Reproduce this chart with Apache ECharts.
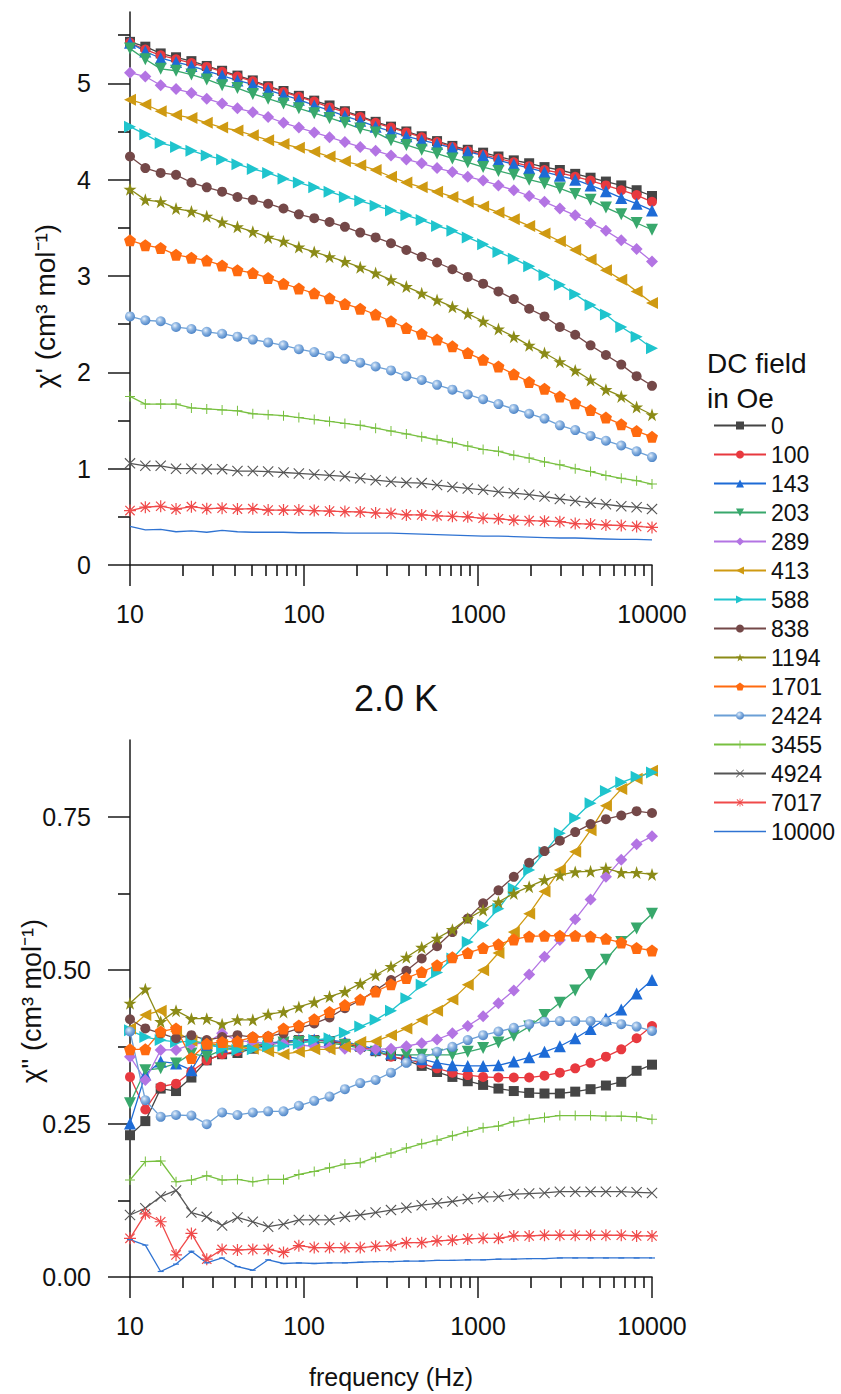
<!DOCTYPE html>
<html><head><meta charset="utf-8">
<script src="https://cdn.jsdelivr.net/npm/echarts@6/dist/echarts.min.js"></script>
<style>html,body{margin:0;padding:0;background:#fff}#c{width:841px;height:1394px}</style>
</head><body><div id="c"></div>
<script>
// ---------------- DATA ----------------
const frequencies = [10,12.25,15.01,18.39,22.54,27.61,33.83,41.45,50.79,62.23,76.25,93.42,114.5,140.2,171.8,210.5,258.0,316.2,387.5,474.7,581.7,712.7,873.2,1070,1311,1606,1968,2411,2954,3620,4435,5434,6659,8158,10000];
const fieldNames = ['0','100','143','203','289','413','588','838','1194','1701','2424','3455','4924','7017','10000'];

// chi' (top panel)
const chi1_0    = [5.43,5.38,5.31,5.27,5.23,5.18,5.13,5.08,5.03,4.97,4.92,4.87,4.82,4.77,4.71,4.66,4.60,4.55,4.50,4.45,4.40,4.35,4.31,4.28,4.24,4.20,4.17,4.13,4.10,4.06,4.02,3.98,3.94,3.89,3.83];
const chi1_100  = [5.42,5.35,5.29,5.25,5.21,5.17,5.12,5.07,5.02,4.96,4.91,4.86,4.81,4.75,4.70,4.65,4.59,4.54,4.49,4.44,4.39,4.34,4.30,4.26,4.22,4.18,4.14,4.10,4.07,4.03,3.99,3.94,3.89,3.84,3.77];
const chi1_143  = [5.42,5.33,5.26,5.22,5.18,5.13,5.08,5.03,4.99,4.93,4.88,4.83,4.77,4.72,4.66,4.61,4.55,4.50,4.45,4.41,4.37,4.33,4.29,4.25,4.20,4.16,4.12,4.08,4.04,4.00,3.94,3.88,3.81,3.75,3.68];
const chi1_203  = [5.36,5.25,5.15,5.13,5.09,5.04,4.98,4.95,4.89,4.84,4.79,4.74,4.69,4.64,4.59,4.53,4.49,4.41,4.36,4.31,4.27,4.22,4.18,4.13,4.09,4.05,4.00,3.96,3.91,3.85,3.79,3.71,3.64,3.55,3.48];
const chi1_289  = [5.11,5.07,4.98,4.94,4.90,4.84,4.79,4.74,4.70,4.65,4.59,4.54,4.49,4.44,4.39,4.34,4.30,4.25,4.21,4.17,4.12,4.08,4.03,3.99,3.94,3.89,3.83,3.77,3.70,3.63,3.55,3.47,3.37,3.28,3.15];
const chi1_413  = [4.83,4.78,4.71,4.67,4.64,4.59,4.54,4.51,4.46,4.41,4.37,4.33,4.29,4.24,4.19,4.15,4.10,4.03,3.97,3.92,3.875,3.82,3.77,3.72,3.66,3.59,3.52,3.44,3.36,3.27,3.17,3.06,2.96,2.84,2.72];
const chi1_588  = [4.55,4.47,4.38,4.34,4.30,4.25,4.21,4.16,4.11,4.07,4.01,3.97,3.92,3.875,3.82,3.78,3.73,3.68,3.63,3.58,3.52,3.47,3.40,3.33,3.25,3.18,3.10,3.01,2.91,2.81,2.70,2.60,2.47,2.37,2.25];
const chi1_838  = [4.24,4.12,4.07,4.05,3.97,3.92,3.875,3.82,3.79,3.75,3.70,3.64,3.60,3.56,3.51,3.45,3.40,3.34,3.27,3.20,3.14,3.07,2.99,2.92,2.84,2.76,2.66,2.58,2.47,2.39,2.28,2.18,2.08,1.96,1.86];
const chi1_1194 = [3.90,3.79,3.77,3.70,3.67,3.62,3.56,3.51,3.46,3.40,3.36,3.30,3.25,3.20,3.15,3.09,3.03,2.96,2.89,2.82,2.75,2.68,2.61,2.53,2.45,2.37,2.28,2.20,2.11,2.02,1.92,1.82,1.75,1.64,1.56];
const chi1_1701 = [3.37,3.32,3.29,3.22,3.19,3.16,3.11,3.06,3.03,2.98,2.92,2.87,2.82,2.77,2.71,2.66,2.60,2.53,2.46,2.40,2.34,2.27,2.20,2.13,2.06,1.98,1.90,1.83,1.75,1.68,1.61,1.53,1.46,1.39,1.33];
const chi1_2424 = [2.58,2.54,2.53,2.47,2.45,2.42,2.40,2.37,2.34,2.31,2.28,2.24,2.21,2.17,2.14,2.10,2.06,2.02,1.96,1.92,1.87,1.82,1.77,1.72,1.67,1.62,1.57,1.52,1.45,1.40,1.34,1.29,1.24,1.18,1.12];
const chi1_3455 = [1.75,1.67,1.67,1.67,1.63,1.62,1.61,1.60,1.57,1.56,1.55,1.53,1.51,1.49,1.47,1.45,1.42,1.39,1.36,1.33,1.30,1.27,1.235,1.20,1.18,1.14,1.11,1.07,1.04,1.00,0.97,0.93,0.90,0.875,0.84];
const chi1_4924 = [1.055,1.03,1.03,1.00,1.00,0.995,0.995,0.975,0.975,0.97,0.96,0.95,0.94,0.93,0.92,0.90,0.88,0.865,0.855,0.85,0.83,0.81,0.795,0.78,0.76,0.745,0.73,0.71,0.685,0.665,0.645,0.63,0.61,0.60,0.58];
const chi1_7017 = [0.565,0.60,0.61,0.58,0.605,0.585,0.59,0.58,0.585,0.57,0.57,0.57,0.565,0.56,0.555,0.55,0.54,0.535,0.52,0.52,0.51,0.505,0.50,0.485,0.48,0.465,0.46,0.455,0.45,0.43,0.425,0.415,0.41,0.40,0.39];
const chi1_10000= [0.40,0.365,0.37,0.345,0.355,0.34,0.36,0.345,0.34,0.34,0.34,0.335,0.335,0.335,0.33,0.33,0.33,0.33,0.325,0.32,0.315,0.31,0.305,0.30,0.30,0.295,0.29,0.285,0.28,0.28,0.275,0.27,0.265,0.265,0.26];

// chi'' (bottom panel)
const chi2_0    = [0.231,0.254,0.307,0.303,0.325,0.353,0.363,0.365,0.372,0.378,0.383,0.386,0.386,0.384,0.380,0.375,0.368,0.360,0.353,0.344,0.334,0.326,0.319,0.313,0.307,0.303,0.300,0.299,0.299,0.302,0.306,0.312,0.318,0.336,0.346];
const chi2_100  = [0.326,0.273,0.310,0.315,0.335,0.353,0.363,0.368,0.375,0.380,0.384,0.386,0.386,0.385,0.381,0.376,0.368,0.359,0.355,0.348,0.340,0.333,0.329,0.326,0.325,0.325,0.325,0.328,0.333,0.340,0.349,0.359,0.371,0.389,0.409];
const chi2_143  = [0.250,0.330,0.351,0.348,0.337,0.378,0.375,0.375,0.378,0.381,0.384,0.386,0.387,0.386,0.383,0.378,0.371,0.364,0.359,0.355,0.349,0.345,0.344,0.344,0.345,0.351,0.358,0.367,0.376,0.389,0.404,0.421,0.436,0.462,0.484];
const chi2_203  = [0.283,0.337,0.340,0.348,0.364,0.359,0.370,0.374,0.377,0.380,0.382,0.383,0.383,0.381,0.378,0.373,0.367,0.362,0.362,0.362,0.362,0.362,0.367,0.373,0.382,0.393,0.408,0.427,0.447,0.467,0.492,0.517,0.546,0.568,0.592];
const chi2_289  = [0.359,0.321,0.370,0.370,0.379,0.382,0.397,0.385,0.383,0.381,0.380,0.378,0.376,0.374,0.372,0.371,0.371,0.372,0.376,0.381,0.387,0.397,0.409,0.425,0.446,0.467,0.493,0.522,0.549,0.583,0.615,0.652,0.680,0.705,0.718];
const chi2_413  = [0.405,0.427,0.434,0.400,0.385,0.380,0.378,0.375,0.372,0.368,0.363,0.367,0.371,0.371,0.375,0.383,0.384,0.394,0.405,0.419,0.434,0.452,0.476,0.500,0.528,0.562,0.592,0.628,0.663,0.693,0.728,0.768,0.795,0.812,0.825];
const chi2_588  = [0.402,0.391,0.386,0.383,0.384,0.381,0.372,0.370,0.371,0.376,0.377,0.380,0.386,0.389,0.398,0.408,0.419,0.434,0.454,0.476,0.496,0.519,0.546,0.573,0.600,0.633,0.663,0.692,0.723,0.748,0.772,0.792,0.806,0.815,0.822];
const chi2_838  = [0.420,0.405,0.397,0.389,0.394,0.386,0.391,0.394,0.391,0.392,0.397,0.405,0.413,0.423,0.438,0.451,0.467,0.484,0.499,0.519,0.539,0.562,0.584,0.609,0.630,0.652,0.675,0.694,0.711,0.725,0.738,0.746,0.752,0.759,0.756];
const chi2_1194 = [0.446,0.469,0.416,0.434,0.421,0.421,0.412,0.419,0.419,0.428,0.432,0.440,0.448,0.457,0.465,0.478,0.492,0.506,0.521,0.537,0.552,0.566,0.584,0.598,0.611,0.625,0.636,0.647,0.655,0.660,0.661,0.666,0.659,0.659,0.656];
const chi2_1701 = [0.371,0.371,0.400,0.405,0.357,0.380,0.383,0.384,0.391,0.392,0.405,0.410,0.420,0.432,0.443,0.452,0.465,0.477,0.487,0.497,0.508,0.521,0.528,0.536,0.542,0.550,0.555,0.556,0.556,0.556,0.555,0.551,0.545,0.536,0.532];
const chi2_2424 = [0.400,0.288,0.261,0.264,0.263,0.249,0.268,0.264,0.268,0.270,0.270,0.279,0.287,0.294,0.306,0.316,0.321,0.333,0.349,0.356,0.367,0.375,0.386,0.394,0.400,0.406,0.412,0.416,0.417,0.417,0.417,0.416,0.412,0.408,0.401];
const chi2_3455 = [0.158,0.188,0.189,0.155,0.158,0.165,0.158,0.159,0.155,0.159,0.159,0.167,0.172,0.178,0.184,0.186,0.195,0.202,0.210,0.217,0.223,0.230,0.237,0.243,0.246,0.253,0.257,0.260,0.263,0.263,0.263,0.262,0.262,0.261,0.257];
const chi2_4924 = [0.101,0.112,0.131,0.141,0.105,0.098,0.084,0.097,0.090,0.082,0.086,0.093,0.093,0.093,0.098,0.101,0.105,0.109,0.113,0.117,0.120,0.123,0.127,0.130,0.131,0.135,0.136,0.137,0.139,0.139,0.139,0.139,0.139,0.138,0.137];
const chi2_7017 = [0.063,0.103,0.090,0.036,0.071,0.029,0.045,0.044,0.045,0.045,0.040,0.051,0.048,0.048,0.048,0.048,0.050,0.051,0.056,0.056,0.059,0.060,0.062,0.063,0.063,0.067,0.067,0.068,0.068,0.068,0.068,0.068,0.068,0.067,0.067];
const chi2_10000= [0.061,0.052,0.009,0.021,0.042,0.023,0.031,0.017,0.011,0.028,0.022,0.023,0.022,0.023,0.023,0.024,0.025,0.025,0.026,0.026,0.027,0.027,0.028,0.028,0.029,0.029,0.030,0.030,0.031,0.031,0.031,0.031,0.031,0.031,0.031];

// tick values
const xMinorTicks = [20,30,40,50,60,70,80,90,200,300,400,500,600,700,800,900,2000,3000,4000,5000,6000,7000,8000,9000];
const yTicksTop = [0,1,2,3,4,5];
const yMinorTop = [0.5,1.5,2.5,3.5,4.5,5.5];
const yTicksBottom = [0,0.25,0.5,0.75];
const yMinorBottom = [0.125,0.375,0.625];

const topSets = [chi1_0,chi1_100,chi1_143,chi1_203,chi1_289,chi1_413,chi1_588,chi1_838,chi1_1194,chi1_1701,chi1_2424,chi1_3455,chi1_4924,chi1_7017,chi1_10000];
const bottomSets = [chi2_0,chi2_100,chi2_143,chi2_203,chi2_289,chi2_413,chi2_588,chi2_838,chi2_1194,chi2_1701,chi2_2424,chi2_3455,chi2_4924,chi2_7017,chi2_10000];

// ---------------- STYLE ----------------
const FONT = '"Liberation Sans", Arial, sans-serif';
const STAR = 'path://M50,0 L61.8,35.1 L98.8,35.1 L68.9,57.1 L80.3,92.7 L50,70.6 L19.7,92.7 L31.1,57.1 L1.2,35.1 L38.2,35.1 Z';
const PENT = 'path://M50,0 L97.6,34.5 L79.4,90.5 L20.6,90.5 L2.4,34.5 Z';
const PLUS = 'path://M45,0 L55,0 L55,45 L100,45 L100,55 L55,55 L55,100 L45,100 L45,55 L0,55 L0,45 L45,45 Z';
const XMARK = 'path://M7,0 L50,43 L93,0 L100,7 L57,50 L100,93 L93,100 L50,57 L7,100 L0,93 L43,50 L0,7 Z';
const AST = 'path://M45,0 L55,0 L55,100 L45,100 Z M0,45 L100,45 L100,55 L0,55 Z M14.6,7.5 L92.5,85.4 L85.4,92.5 L7.5,14.6 Z M85.4,7.5 L92.5,14.6 L14.6,92.5 L7.5,85.4 Z';
const LINEICON = 'path://M0,0 L52,0 L52,1.4 L0,1.4 Z';
const sphere = {type:'radial', x:0.38, y:0.35, r:0.65, colorStops:[{offset:0,color:'#e6f0fb'},{offset:0.45,color:'#8db5e2'},{offset:1,color:'#4f86c8'}]};

const styles = {
  '0':    {color:'#454545', symbol:'rect', size:10},
  '100':  {color:'#e8393f', symbol:'circle', size:10},
  '143':  {color:'#1d6bd6', symbol:'triangle', size:12},
  '203':  {color:'#38a86c', symbol:'triangle', size:12, rotate:180},
  '289':  {color:'#b374e3', symbol:'diamond', size:12},
  '413':  {color:'#cf9a12', symbol:'triangle', size:12, rotate:90},
  '588':  {color:'#1fc4cd', symbol:'triangle', size:12, rotate:-90},
  '838':  {color:'#744848', symbol:'circle', size:10},
  '1194': {color:'#8b8b17', symbol:STAR, size:13},
  '1701': {color:'#ff6a0f', symbol:PENT, size:12},
  '2424': {color:'#6b9fd6', symbol:'circle', size:10, fill:sphere},
  '3455': {color:'#78c040', symbol:PLUS, size:10},
  '4924': {color:'#555555', symbol:XMARK, size:11},
  '7017': {color:'#f04a4a', symbol:AST, size:12},
  '10000':{color:'#2f73d2', symbol:'none', size:0}
};

function lineSeries(name, values, g) {
  const st = styles[name];
  let sym = st.symbol, size = st.size;
  if (name === '10000' && g === 1) { sym = 'rect'; size = [6, 1.2]; }
  return {
    name, type:'line', xAxisIndex:g, yAxisIndex:g,
    data: frequencies.map((f, i) => [f, values[i]]),
    symbol: sym, symbolSize: size, symbolRotate: st.rotate || 0,
    lineStyle: {color: st.color, width: 1.3},
    itemStyle: {color: st.fill || st.color, borderWidth: 0},
    emphasis: {disabled: true},
    z: 3
  };
}

const axisLineStyle = {color:'#1a1a1a', width:1.5};
function xAxisCfg(g) {
  return {
    type:'log', logBase:10, gridIndex:g, min:10, max:10000, position:'bottom',
    axisLine:{show:true, onZero:false, lineStyle:axisLineStyle},
    axisTick:{show:true, inside:false, length:21, lineStyle:axisLineStyle},
    axisLabel:{show:true, margin:36, fontSize:25, color:'#111', fontFamily:FONT,
               formatter: v => String(Math.round(v))},
    splitLine:{show:false}
  };
}
// minor ticks of the log axis, drawn by a tick-only log axis in an overlaid grid
function xMinorAxisCfg(g) {
  return {
    type:'log', logBase:10, gridIndex:g, min:10, max:10000, position:'bottom',
    axisLine:{show:false},
    axisTick:{show:true, inside:false, length:11, lineStyle:{color:'#1a1a1a', width:1.6}, customValues: xMinorTicks},
    axisLabel:{show:false},
    splitLine:{show:false}
  };
}
function yAxisCfg(g, max, interval, ticks, fmt) {
  return {
    type:'value', gridIndex:g, min:0, max:max, interval:interval, position:'left',
    axisLine:{show:true, onZero:false, lineStyle:axisLineStyle},
    axisTick:{show:true, inside:false, length:22, lineStyle:axisLineStyle, customValues: ticks},
    axisLabel:{show:true, margin:39, fontSize:25, color:'#111', fontFamily:FONT, customValues: ticks, formatter: fmt},
    splitLine:{show:false}
  };
}
function yMinorAxisCfg(g, max, ticks) {
  return {
    type:'value', gridIndex:g, min:0, max:max, position:'left',
    axisLine:{show:false},
    axisTick:{show:true, inside:false, length:12, lineStyle:{color:'#1a1a1a', width:1.6}, customValues: ticks},
    axisLabel:{show:false},
    splitLine:{show:false}
  };
}

const series = [];
fieldNames.forEach((n, i) => series.push(lineSeries(n, topSets[i], 0)));
fieldNames.forEach((n, i) => series.push(lineSeries(n, bottomSets[i], 1)));

const legendData = fieldNames.map(n => n === '10000' ? {name:n, icon:LINEICON} : n);

const topRect = {left:130, top:12, width:522, height:553};
const botRect = {left:130, top:740, width:522, height:537};

const option = {
  animation:false,
  backgroundColor:'#fff',
  textStyle:{fontFamily:FONT},
  title:{text:'2.0 K', left:391, top:675, textAlign:'center',
         textStyle:{fontSize:36, fontWeight:'normal', color:'#111', fontFamily:FONT}},
  grid:[topRect, botRect, Object.assign({}, topRect), Object.assign({}, botRect)],
  xAxis:[xAxisCfg(0), xAxisCfg(1), xMinorAxisCfg(2), xMinorAxisCfg(3)],
  yAxis:[
    yAxisCfg(0, 5.74, 1, yTicksTop, v => String(v)),
    yAxisCfg(1, 0.875, 0.25, yTicksBottom, v => v.toFixed(2)),
    yMinorAxisCfg(2, 5.74, yMinorTop),
    yMinorAxisCfg(3, 0.875, yMinorBottom)
  ],
  legend:{
    orient:'vertical', left:708, top:406, itemWidth:52, itemHeight:10, itemGap:0,
    selectedMode:false, data: legendData, symbolKeepAspect:true,
    textStyle:{fontSize:23, lineHeight:29, color:'#111', fontFamily:FONT}
  },
  graphic:[
    {type:'text', x:45, y:306, rotation:Math.PI/2,
     style:{text:"χ' (cm³ mol⁻¹)", font:'28px ' + FONT, fill:'#111', textAlign:'center', textVerticalAlign:'middle'}},
    {type:'text', x:32, y:1001, rotation:Math.PI/2,
     style:{text:"χ'' (cm³ mol⁻¹)", font:'27px ' + FONT, fill:'#111', textAlign:'center', textVerticalAlign:'middle'}},
    {type:'text', x:391, y:1377,
     style:{text:'frequency (Hz)', font:'25px ' + FONT, fill:'#111', textAlign:'center', textVerticalAlign:'middle'}},
    {type:'text', x:707, y:363,
     style:{text:'DC field', font:'28px ' + FONT, fill:'#111', textAlign:'left', textVerticalAlign:'middle'}},
    {type:'text', x:707, y:398,
     style:{text:'in Oe', font:'28px ' + FONT, fill:'#111', textAlign:'left', textVerticalAlign:'middle'}}
  ],
  series
};

const chart = echarts.init(document.getElementById('c'), null, {renderer:'svg', width:841, height:1394});
chart.setOption(option);
</script>
</body></html>
